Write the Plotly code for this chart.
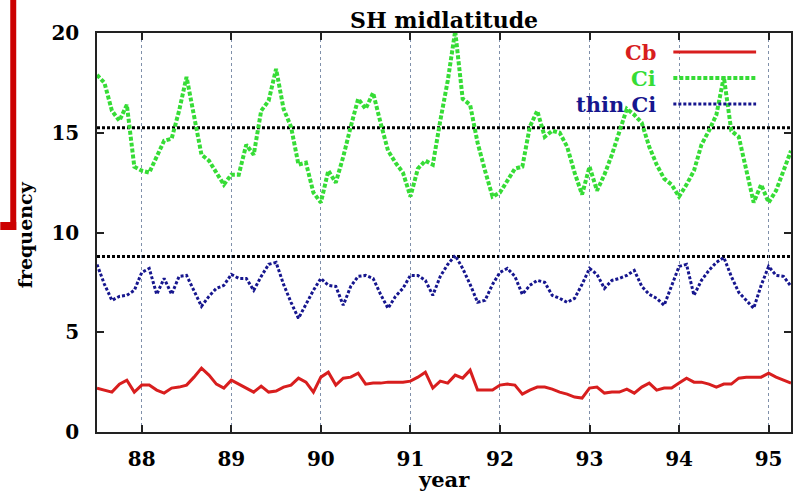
import plotly.graph_objects as go

# ---------------- data (monthly, starting mid-1987) ----------------
start_year = 87.5
cb = [2.2, 2.1, 2.0, 2.4, 2.6, 2.0, 2.35, 2.35, 2.1, 1.95, 2.2, 2.25,
      2.35, 2.75, 3.2, 2.85, 2.4, 2.2, 2.6, 2.4, 2.2, 2.0, 2.3, 2.0,
      2.05, 2.25, 2.35, 2.7, 2.5, 2.0, 2.75, 3.0, 2.35, 2.7, 2.75, 2.95,
      2.4, 2.45, 2.45, 2.5, 2.5, 2.5, 2.55, 2.75, 3.0, 2.2, 2.55, 2.45,
      2.85, 2.7, 3.1, 2.1, 2.1, 2.1, 2.35, 2.4, 2.35, 1.9, 2.1, 2.25,
      2.25, 2.15, 2.0, 1.9, 1.75, 1.7, 2.2, 2.25, 1.95, 2.0, 2.0, 2.15,
      1.95, 2.25, 2.45, 2.1, 2.2, 2.2, 2.45, 2.7, 2.5, 2.5, 2.4, 2.25,
      2.4, 2.4, 2.7, 2.75, 2.75, 2.75, 2.95, 2.75, 2.6, 2.45]
ci = [17.9, 17.5, 16.1, 15.6, 16.4, 13.3, 13.1, 13.0, 13.8, 14.6, 14.7, 16.1,
      17.8, 15.9, 13.9, 13.6, 13.0, 12.4, 12.9, 12.9, 14.4, 13.9, 16.1, 16.6,
      18.2, 16.2, 15.3, 13.4, 13.5, 12.0, 11.5, 13.1, 12.5, 13.8, 15.3, 16.7,
      16.2, 17.0, 15.5, 14.1, 13.5, 13.0, 11.8, 13.2, 13.6, 13.4, 15.6, 17.6,
      20.1, 16.7, 16.4, 14.5, 13.1, 11.8, 12.0, 12.6, 13.2, 13.3, 15.3, 16.1,
      14.8, 15.1, 15.0, 14.3, 13.0, 11.9, 13.3, 12.1, 12.9, 13.9, 15.1, 16.2,
      15.9, 15.5, 14.3, 13.4, 12.7, 12.4, 11.8, 12.4, 13.1, 14.4, 15.1, 15.9,
      17.8, 15.1, 14.8, 13.1, 11.5, 12.4, 11.5, 12.1, 13.1, 14.1]
thin_ci = [8.4, 7.4, 6.6, 6.8, 6.85, 7.1, 8.0, 8.2, 6.9, 7.7, 6.9, 7.8,
           7.85, 7.1, 6.3, 6.8, 7.2, 7.35, 7.9, 7.7, 7.7, 7.1, 7.8, 8.4,
           8.5, 7.4, 6.5, 5.7, 6.4, 7.1, 7.7, 7.35, 7.3, 6.35, 7.3, 7.8,
           7.85, 7.7, 6.9, 6.2, 6.8, 7.2, 7.85, 7.85, 7.6, 6.85, 7.8, 8.4,
           8.85, 8.2, 7.4, 6.5, 6.6, 7.4, 8.0, 8.2, 7.8, 6.9, 7.35, 7.6,
           7.5, 6.85, 6.7, 6.5, 6.7, 7.4, 8.2, 7.9, 7.2, 7.6, 7.7, 7.85,
           8.1, 7.3, 6.9, 6.7, 6.35, 7.3, 8.3, 8.4, 6.85, 7.6, 8.1, 8.5,
           8.75, 7.8, 7.0, 6.6, 6.2, 7.35, 8.3, 7.85, 7.8, 7.3]
years = [start_year + i / 12 for i in range(len(ci))]

ref_levels = [15.25, 8.8]
x_ticks = [88, 89, 90, 91, 92, 93, 94, 95]
y_ticks = [0, 5, 10, 15, 20]
series_names = ["Cb", "Ci", "thin Ci"]
series_values = [cb, ci, thin_ci]

# ---------------- styling ----------------
W, H = 795, 491
L, R, T, B = 97, 2, 33, 59
colors = ["#d81e1e", "#36dc36", "#16168e"]
dashes = ["solid", "4px,2px", "3px,2px"]
widths = [3, 4, 3]
FONT = "DejaVu Serif"

fig = go.Figure()
for name, vals, c, d, w in zip(series_names, series_values, colors, dashes, widths):
    fig.add_trace(go.Scatter(x=years, y=vals, mode="lines", name=name,
                             line=dict(color=c, dash=d, width=w), showlegend=False))

# horizontal dotted reference lines
for lv in ref_levels:
    fig.add_shape(type="line", xref="x domain", yref="y", x0=0, x1=1, y0=lv, y1=lv,
                  line=dict(color="black", width=3, dash="3px,2px"), layer="below")

def px_to_paper_x(px):
    return (px - L) / (W - L - R)

def px_to_paper_y(py):
    return (H - B - py) / (H - T - B)

# custom legend: text on the left, sample line on the right
legend_rows = [52, 78, 104]
for name, c, d, w, ry in zip(series_names, colors, dashes, widths, legend_rows):
    fig.add_annotation(x=px_to_paper_x(660), y=px_to_paper_y(ry), xref="paper", yref="paper",
                       text=name, showarrow=False, xanchor="right", yanchor="middle",
                       font=dict(family=FONT, size=21, color=c, weight="bold"))
    fig.add_shape(type="line", xref="paper", yref="paper",
                  x0=px_to_paper_x(675), x1=px_to_paper_x(758),
                  y0=px_to_paper_y(ry), y1=px_to_paper_y(ry),
                  line=dict(color=c, dash=d, width=w))

# red slide-frame fragment at the left edge
red = "#cc0000"
fig.add_shape(type="rect", xref="paper", yref="paper",
              x0=px_to_paper_x(10), x1=px_to_paper_x(16),
              y0=px_to_paper_y(0), y1=px_to_paper_y(230),
              line=dict(width=0), fillcolor=red)
fig.add_shape(type="rect", xref="paper", yref="paper",
              x0=px_to_paper_x(0), x1=px_to_paper_x(16),
              y0=px_to_paper_y(222), y1=px_to_paper_y(230),
              line=dict(width=0), fillcolor=red)

# titles
fig.add_annotation(x=0.5, y=px_to_paper_y(20), xref="paper", yref="paper",
                   text="SH midlatitude", showarrow=False, xanchor="center", yanchor="middle",
                   font=dict(family=FONT, size=22, color="black", weight="bold"))
fig.add_annotation(x=0.5, y=px_to_paper_y(479), xref="paper", yref="paper",
                   text="year", showarrow=False, xanchor="center", yanchor="middle",
                   font=dict(family=FONT, size=21, color="black", weight="bold"))
fig.add_annotation(x=px_to_paper_x(25), y=px_to_paper_y(235), xref="paper", yref="paper",
                   text="frequency", showarrow=False, xanchor="center", yanchor="middle",
                   textangle=-90,
                   font=dict(family=FONT, size=19, color="black", weight="bold"))

axis_common = dict(showline=True, linecolor="#222222", linewidth=1.5, mirror="ticks",
                   ticks="inside", ticklen=7, tickwidth=1.5, tickcolor="#222222",
                   tickfont=dict(family=FONT, size=20, color="black", weight="bold"),
                   zeroline=False)

fig.update_xaxes(range=[87.5, 95.25], tickvals=x_ticks, ticktext=[str(t) for t in x_ticks],
                 showgrid=True, gridcolor="#8090aa", gridwidth=1, griddash="dot",
                 ticklabelstandoff=8, **axis_common)
fig.update_yaxes(range=[0, 20], tickvals=y_ticks, ticktext=[str(t) for t in y_ticks],
                 showgrid=False, ticklabelstandoff=12, **axis_common)

fig.update_layout(width=W, height=H, margin=dict(l=L, r=R, t=T, b=B),
                  plot_bgcolor="white", paper_bgcolor="white", showlegend=False)

fig.write_html("out.html")
